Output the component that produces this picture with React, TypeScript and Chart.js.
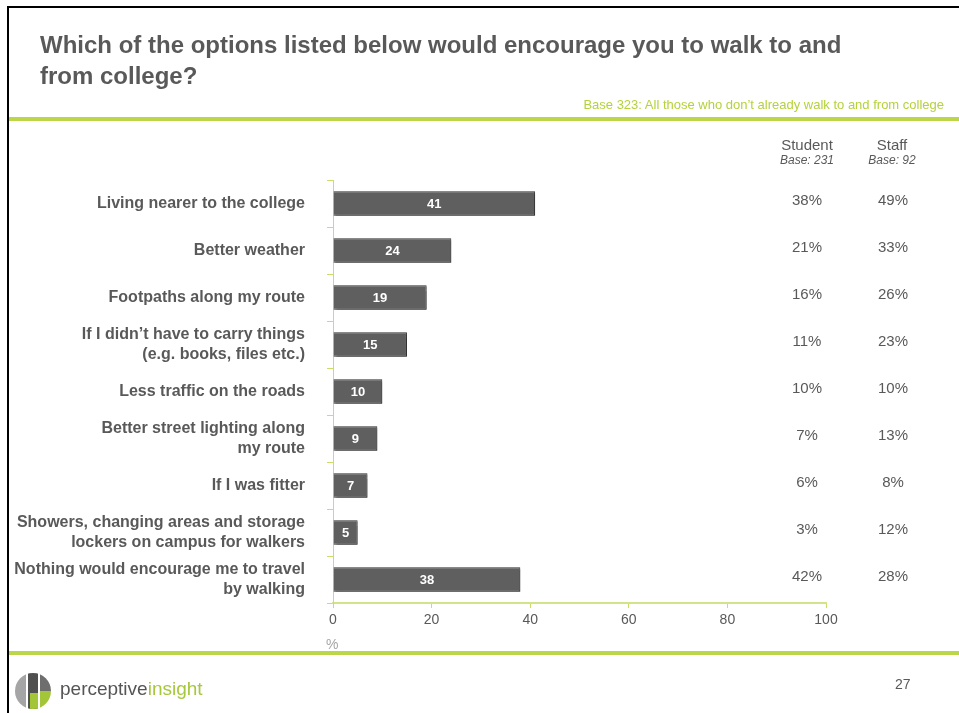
import React, { useEffect, useRef } from "react";
import { Chart, registerables } from "chart.js";

Chart.register(...registerables);

const categories: (string | string[])[] = [
  "Living nearer to the college",
  "Better weather",
  "Footpaths along my route",
  ["If I didn’t have to carry things", "(e.g. books, files etc.)"],
  "Less traffic on the roads",
  ["Better street lighting along", "my route"],
  "If I was fitter",
  ["Showers, changing areas and storage", "lockers on campus for walkers"],
  ["Nothing would encourage me to travel", "by walking"],
];
const totalValues = [41, 24, 19, 15, 10, 9, 7, 5, 38];
const studentValues = [38, 21, 16, 11, 10, 7, 6, 3, 42];
const staffValues = [49, 33, 26, 23, 10, 13, 8, 12, 28];
const xTicks = [0, 20, 40, 60, 80, 100];

const FONT = '"Liberation Sans", Arial, sans-serif';
const GREY = "#595959";
const GREEN = "#b4d23c";
const AXIS_GREEN = "#c9de66";

export default function App() {
  const canvasRef = useRef<HTMLCanvasElement | null>(null);

  useEffect(() => {
    const canvas = canvasRef.current;
    if (!canvas) return;

    const shadowPlugin = {
      id: "barShadow",
      beforeDatasetDraw(chart: any) {
        const ctx = chart.ctx;
        ctx.save();
        ctx.shadowColor = "rgba(0,0,0,0.28)";
        ctx.shadowOffsetX = 2;
        ctx.shadowOffsetY = 2;
        ctx.shadowBlur = 1;
      },
      afterDatasetDraw(chart: any) {
        chart.ctx.restore();
      },
    };

    const labelsPlugin = {
      id: "extraLabels",
      afterDatasetsDraw(chart: any) {
        const ctx = chart.ctx;
        const meta = chart.getDatasetMeta(0);
        ctx.save();
        ctx.font = `bold 13px ${FONT}`;
        ctx.fillStyle = "#ffffff";
        ctx.textAlign = "center";
        ctx.textBaseline = "middle";
        meta.data.forEach((bar: any, i: number) => {
          const x = (bar.base + bar.x) / 2;
          ctx.fillText(String(totalValues[i]), x, bar.y + 1);
        });
        const yScale = chart.scales.y;
        ctx.font = `15px ${FONT}`;
        ctx.fillStyle = GREY;
        categories.forEach((_c, i) => {
          const y = yScale.getPixelForValue(i) - 3;
          ctx.fillText(`${studentValues[i]}%`, 807, y);
          ctx.fillText(`${staffValues[i]}%`, 893, y);
        });
        ctx.restore();
      },
    };

    const chart = new Chart(canvas, {
      type: "bar",
      data: {
        labels: categories,
        datasets: [
          {
            data: totalValues,
            backgroundColor: "#5f5f5f",
            borderColor: "#2f2f2f",
            borderWidth: 1,
            barPercentage: 0.52,
            categoryPercentage: 1,
          },
        ],
      },
      options: {
        indexAxis: "y",
        animation: false,
        responsive: false,
        devicePixelRatio: 1,
        layout: { padding: { left: 0, top: 180, right: 133, bottom: 70 } },
        plugins: {
          legend: { display: false },
          tooltip: { enabled: false },
          title: { display: false },
        },
        scales: {
          x: {
            min: 0,
            max: 100,
            afterBuildTicks(scale: any) {
              scale.ticks = xTicks.map((v) => ({ value: v }));
            },
            afterFit(scale: any) {
              scale.height = 40;
            },
            grid: {
              drawOnChartArea: false,
              drawTicks: true,
              tickLength: 5,
              color: AXIS_GREEN,
            },
            border: { display: true, color: "#d2e48a", width: 2 },
            ticks: {
              color: GREY,
              font: { family: FONT, size: 14 },
              padding: 4,
            },
          },
          y: {
            afterFit(scale: any) {
              scale.width = 333;
            },
            grid: {
              offset: true,
              drawOnChartArea: false,
              drawTicks: true,
              tickLength: 6,
              color: AXIS_GREEN,
            },
            border: { display: true, color: AXIS_GREEN, width: 1 },
            ticks: {
              color: GREY,
              padding: 22,
              font: { family: FONT, size: 16, weight: "bold", lineHeight: 1.25 },
            },
          },
        },
      },
      plugins: [shadowPlugin, labelsPlugin],
    } as any);

    return () => chart.destroy();
  }, []);

  const abs = (style: React.CSSProperties): React.CSSProperties => ({
    position: "absolute",
    ...style,
  });

  return (
    <div
      style={{
        position: "absolute",
        left: 0,
        top: 0,
        width: 959,
        height: 713,
        background: "#ffffff",
        overflow: "hidden",
        fontFamily: FONT,
      }}
    >
      <canvas
        ref={canvasRef}
        width={959}
        height={713}
        style={{ position: "absolute", left: 0, top: 0, width: 959, height: 713 }}
      />
      {/* slide border */}
      <div style={abs({ left: 7, top: 6, width: 952, height: 2, background: "#000" })} />
      <div style={abs({ left: 7, top: 6, width: 2, height: 707, background: "#000" })} />
      {/* title */}
      <div
        style={abs({
          left: 40,
          top: 29,
          width: 900,
          fontSize: 24,
          fontWeight: "bold",
          lineHeight: "31px",
          color: GREY,
          whiteSpace: "nowrap",
        })}
      >
        Which of the options listed below would encourage you to walk to and
        <br />
        from college?
      </div>
      <div
        style={abs({
          right: 15,
          top: 97,
          fontSize: 13,
          color: GREEN,
          whiteSpace: "nowrap",
        })}
      >
        Base 323: All those who don’t already walk to and from college
      </div>
      <div style={abs({ left: 9, top: 117, width: 950, height: 4, background: "#bcd64a" })} />
      {/* column headers */}
      <div style={abs({ left: 757, top: 136, width: 100, textAlign: "center", color: GREY })}>
        <div style={{ fontSize: 15, lineHeight: "17px" }}>Student</div>
        <div style={{ fontSize: 12, fontStyle: "italic", lineHeight: "14px" }}>Base: 231</div>
      </div>
      <div style={abs({ left: 842, top: 136, width: 100, textAlign: "center", color: GREY })}>
        <div style={{ fontSize: 15, lineHeight: "17px" }}>Staff</div>
        <div style={{ fontSize: 12, fontStyle: "italic", lineHeight: "14px" }}>Base: 92</div>
      </div>
      {/* axis unit */}
      <div style={abs({ left: 326, top: 636, fontSize: 14, color: "#a6a6a6" })}>%</div>
      <div style={abs({ left: 9, top: 651, width: 950, height: 4, background: "#bcd64a" })} />
      {/* footer logo */}
      <svg width={40} height={40} style={abs({ left: 13, top: 671 })} viewBox="0 0 40 40">
        <defs>
          <clipPath id="logoClip">
            <circle cx={20} cy={20} r={18} />
          </clipPath>
        </defs>
        <g clipPath="url(#logoClip)">
          <rect x={0} y={0} width={13} height={40} fill="#a5a5a5" />
          <rect x={15} y={0} width={10} height={40} fill="#505050" />
          <rect x={27} y={0} width={13} height={20} fill="#6e6e6e" />
          <rect x={27} y={20} width={13} height={20} fill="#a3c639" />
          <rect x={17} y={22} width={8} height={18} fill="#a3c639" />
        </g>
      </svg>
      <div style={abs({ left: 60, top: 678, fontSize: 19, whiteSpace: "nowrap" })}>
        <span style={{ color: "#555555" }}>perceptive</span>
        <span style={{ color: "#a6c83c" }}>insight</span>
      </div>
      <div style={abs({ left: 895, top: 676, fontSize: 14, color: GREY })}>27</div>
    </div>
  );
}
